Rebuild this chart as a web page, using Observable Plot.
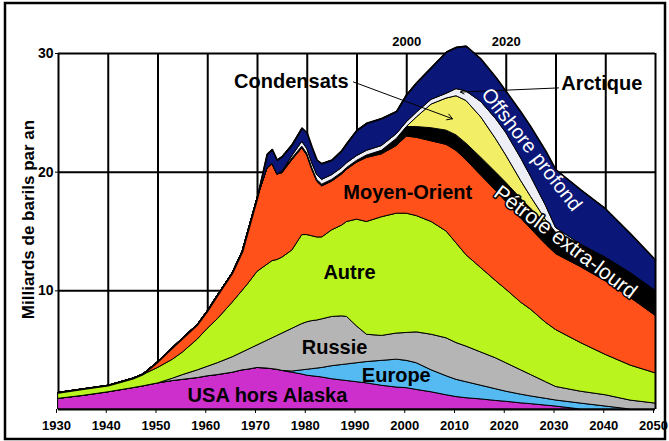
<!DOCTYPE html>
<html><head><meta charset="utf-8">
<script src="https://cdn.jsdelivr.net/npm/d3@7"></script>
<script src="https://cdn.jsdelivr.net/npm/@observablehq/plot@0.6"></script>
<style>
html,body{margin:0;padding:0;background:#fff;}
#chart{width:669px;height:441px;position:relative;}
</style></head><body><div id="chart"></div>
<script>
const years = [1930,1935,1940,1945,1947, 1950,1953,1955,1958,1960, 1962,1965,1967,1968,1970, 1972,1973,1974,1975,1977, 1979,1980,1981,1982,1983, 1985,1987,1988,1990,1992, 1995,1998,2000,2002,2005, 2008,2010,2012,2015,2018, 2020,2023,2025,2028,2030, 2035,2040,2045,2050];

const usa = [0.9,1.15,1.45,1.8,1.95, 2.2,2.4,2.5,2.65,2.8, 2.9,3.1,3.3,3.35,3.5, 3.45,3.4,3.35,3.25,3.1, 2.95,2.85,2.8,2.75,2.7, 2.55,2.45,2.4,2.3,2.2, 2.0,1.85,1.8,1.65,1.45, 1.2,1.05,0.95,0.85,0.72, 0.65,0.52,0.45,0.33,0.25, 0,0,0,0];
const europe = [0,0,0,0,0, 0,0,0,0,0, 0,0,0,0,0, 0,0,0,0,0.1, 0.35,0.5,0.6,0.7,0.8, 1.1,1.3,1.4,1.6,1.8, 2.1,2.35,2.3,2.25,1.85, 1.6,1.45,1.35,1.15,0.98, 0.85,0.73,0.65,0.57,0.51, 0.5,0.25,0,0];
const russie = [0,0,0,0,0, 0,0.2,0.4,0.65,0.8, 1.0,1.3,1.5,1.65,1.9, 2.35,2.6,2.85,3.15,3.6, 3.9,4.0,4.05,4.05,4.1, 4.15,4.1,4.0,3.1,2.3, 2.1,2.2,2.35,2.6,3.0, 3.2,3.1,3.0,2.8,2.6, 2.4,2.05,1.8,1.4,1.14, 1.0,0.95,0.75,0.5];
const autre = [0.5,0.55,0.55,0.8,0.95, 1.3,1.6,1.9,2.6,3.2, 3.7,4.6,5.2,5.5,6.2, 6.4,6.5,6.4,6.4,6.6, 7.5,7.35,7.15,7.0,6.9, 7.3,7.65,8.0,9.0,9.5, 10.0,10.1,10.05,9.8,9.5, 9.0,8.4,7.7,7.1,6.5, 6.2,5.7,5.5,5.0,4.8, 4.1,3.4,2.95,2.55];
const moyenOrient = [0,0,0,0,0.05, 0.5,1.0,1.2,1.25,1.5, 2.0,2.5,3.3,4.3,6.2, 8.1,8.2,7.2,7.1,7.6, 7.3,6.7,5.6,4.7,4.3, 4.1,4.3,4.4,4.8,5.4, 5.3,5.7,6.5,6.6,6.8, 7.3,7.8,8.0,7.8,7.6, 7.4,7.1,6.8,6.6,6.4, 6.4,6.2,5.7,4.85];
const extraLourd = [0,0,0,0,0, 0,0,0,0,0, 0,0,0,0,0, 0,0,0,0.15,0.15, 0.15,0.15,0.15,0.15,0.15, 0.15,0.15,0.15,0.15,0.2, 0.3,0.6,0.8,0.9,1.1, 1.2,1.3,1.4,1.5,1.55, 1.6,1.65,1.7,1.75,1.8, 1.9,2.0,2.1,2.1];
const condensats = [0,0,0,0,0, 0,0,0,0,0, 0,0,0,0,0, 0,0,0,0,0, 0,0,0,0,0, 0,0,0,0,0, 0,0,0,0.8,2.0, 2.7,3.3,3.6,3.4,2.8, 2.3,1.5,1.0,0.3,0, 0,0,0,0];
const arctique = [0,0,0,0,0, 0,0,0,0,0, 0,0,0,0,0, 0,0,0,0,0.2, 0.4,0.4,0.4,0.4,0.4, 0.4,0.4,0.4,0.4,0.4, 0.4,0.4,0.4,0.4,0.4, 0.4,0.6,0.8,1.3,1.7, 1.9,1.9,1.7,1.2,0.4, 0,0,0,0];
const offshore = [0,0,0,0,0, 0,0,0,0,0, 0,0,0,0,0, 1.2,1.2,1.2,1.25,0.95, 1.15,1.35,1.35,1.25,1.35, 1.25,1.45,1.65,2.15,2.3, 2.3,1.9,2.3,2.5,2.7, 3.5,3.5,3.8,3.6,3.5, 3.5,3.9,4.2,4.6,4.9, 4.6,4.1,3.3,2.6];

const seriesNames = ["USA hors Alaska","Europe","Russie","Autre","Moyen-Orient","Pétrole extra-lourd","Condensats","Arctique","Offshore profond"];
const seriesValues = [usa, europe, russie, autre, moyenOrient, extraLourd, condensats, arctique, offshore];
const seriesColors = ["#CC2FCC","#55B9F2","#B5B5B5","#B9F41F","#FF5119","#000000","#F2EE66","#EEEEF7","#0A1778"];

const xTickYears = [1930,1940,1950,1960,1970,1980,1990,2000,2010,2020,2030,2040,2050];
const topTickYears = [2000, 2020];
const yTickValues = [10, 20, 30];
const yAxisTitle = "Milliards de barils par an";

const rows = [];
seriesNames.forEach((s, k) => years.forEach((yr, i) => rows.push({year: yr, series: s, value: seriesValues[k][i]})));
const totals = years.map((yr, i) => ({year: yr, total: d3.sum(seriesValues, v => v[i])}));

const font = "'Liberation Sans', Arial, sans-serif";
const bold = {fontWeight: "bold", fill: "black"};

const chart = Plot.plot({
  width: 669, height: 441,
  marginLeft: 58, marginRight: 14, marginTop: 53, marginBottom: 32,
  style: {fontFamily: font, background: "white", overflow: "visible"},
  x: {domain: [1930, 2050]},
  y: {domain: [0, 30]},
  color: {domain: seriesNames, range: seriesColors},
  marks: [
    Plot.ruleX(xTickYears, {y1: 0, y2: 30, stroke: "black", strokeWidth: 2}),
    Plot.ruleY(yTickValues, {x1: 1930, x2: 2050, stroke: "black", strokeWidth: 2}),
    Plot.areaY(rows, {x: "year", y: "value", fill: "series", stroke: "black", strokeWidth: 1, order: seriesNames}),
    Plot.lineY(totals, {x: "year", y: "total", stroke: "black", strokeWidth: 1.6}),
    Plot.ruleY([0], {stroke: "black", strokeWidth: 2}),
    Plot.axisX(xTickYears, {anchor: "bottom", tickFormat: "d", tickSize: 4, tickPadding: 7, dx: -2, fontSize: 13, fontWeight: "bold", label: null}),
    Plot.axisX(topTickYears, {anchor: "top", tickFormat: "d", tickSize: 0, tickPadding: 8, fontSize: 13, fontWeight: "bold", label: null}),
    Plot.axisY(yTickValues, {anchor: "left", tickSize: 3, tickPadding: 2, fontSize: 14, fontWeight: "bold", label: null}),
    Plot.text([yAxisTitle], {frameAnchor: "left", textAnchor: "middle", dx: -30, dy: -12, rotate: -90, fontSize: 17, ...bold}),
    Plot.text(["Condensats", "Arctique", "Moyen-Orient", "Autre", "Russie", "Europe", "USA hors Alaska"], {
      x: [1976.8, 2039.2, 2000.2, 1988.5, 1985.5, 1997.9, 1972.0],
      y: [27.6, 27.5, 18.3, 11.55, 5.2, 2.85, 1.2],
      fontSize: 20, ...bold
    }),
    Plot.arrow([0], {x1: 1989.3, y1: 27.6, x2: 2009.2, y2: 24.5, stroke: "black", strokeWidth: 1, headLength: 9}),
    Plot.arrow([0], {x1: 2030.5, y1: 27.1, x2: 2010.8, y2: 26.75, stroke: "black", strokeWidth: 1, headLength: 6}),
    Plot.text(["Offshore profond"], {x: 2025.1, y: 21.9, rotate: 52, fontSize: 20, fill: "white"}),
    Plot.text(["Pétrole extra-lourd"], {x: 2031.9, y: 14.1, rotate: 37, fontSize: 21, fill: "white", stroke: "black", strokeWidth: 3})
  ]
});

d3.select(chart).append("rect")
  .attr("x", 5).attr("y", 3).attr("width", 660).attr("height", 436)
  .attr("fill", "none").attr("stroke", "black").attr("stroke-width", 2.5);

document.getElementById("chart").appendChild(chart);
</script></body></html>
